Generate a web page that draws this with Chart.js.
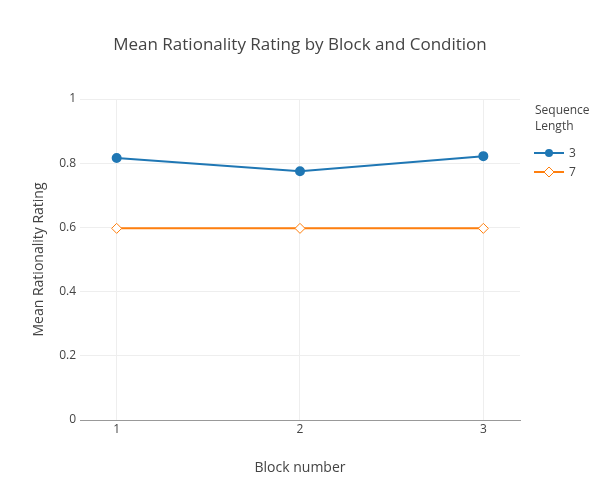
<!DOCTYPE html>
<html>
<head>
<meta charset="utf-8">
<script src="https://cdn.jsdelivr.net/npm/chart.js@4"></script>
<style>
  html, body { margin: 0; padding: 0; background: #fff; }
  #wrap { width: 600px; height: 500px; }
</style>
</head>
<body>
<div id="wrap"><canvas id="chart" width="600" height="500"></canvas></div>
<script>
// 数据
const blocks = [1, 2, 3];
const seqLabels = ['3', '7'];
const seq3 = [0.816, 0.775, 0.822];
const seq7 = [0.597, 0.597, 0.597];
const yTicks = [0, 0.2, 0.4, 0.6, 0.8, 1];
const chartTitle = 'Mean Rationality Rating by Block and Condition';

const BLUE = '#1f77b4';
const ORANGE = '#ff7f0e';
const FONT = '"Open Sans", "Noto Sans", sans-serif';

// 标题 + 右侧图例（plotly 风格）
const decoPlugin = {
    id: 'deco',
    afterDraw(chart) {
        const ctx = chart.ctx;
        ctx.save();
        ctx.fillStyle = '#444';
        ctx.textBaseline = 'middle';
        ctx.textAlign = 'center';
        ctx.font = '17px ' + FONT;
        ctx.fillText(chartTitle, 300, 45);

        ctx.textAlign = 'left';
        ctx.font = '12px ' + FONT;
        ctx.fillText('Sequence', 535, 111);
        ctx.fillText('Length', 535, 127);
        chart.data.datasets.forEach((ds, i) => {
            const y = 153 + i * 19;
            ctx.strokeStyle = ds.borderColor;
            ctx.lineWidth = 2;
            ctx.beginPath();
            ctx.moveTo(534, y);
            ctx.lineTo(564, y);
            ctx.stroke();
            ctx.lineWidth = 1;
            ctx.beginPath();
            if (ds.pointStyle === 'rectRot') {
                ctx.fillStyle = '#fff';
                ctx.moveTo(549, y - 5);
                ctx.lineTo(554, y);
                ctx.lineTo(549, y + 5);
                ctx.lineTo(544, y);
                ctx.closePath();
                ctx.fill();
                ctx.stroke();
            } else {
                ctx.fillStyle = ds.pointBackgroundColor;
                ctx.arc(549, y, 4, 0, Math.PI * 2);
                ctx.fill();
            }
            ctx.fillStyle = '#444';
            ctx.fillText(seqLabels[i], 569, y + 1);
        });
        ctx.restore();
    }
};

new Chart(document.getElementById('chart'), {
    type: 'line',
    data: {
        datasets: [
            {
                label: seqLabels[0],
                data: blocks.map((b, i) => ({ x: b, y: seq3[i] })),
                borderColor: BLUE,
                backgroundColor: BLUE,
                pointBackgroundColor: BLUE,
                pointBorderColor: BLUE,
                pointStyle: 'circle',
                pointRadius: 4,
                borderWidth: 2,
                tension: 0
            },
            {
                label: seqLabels[1],
                data: blocks.map((b, i) => ({ x: b, y: seq7[i] })),
                borderColor: ORANGE,
                backgroundColor: '#fff',
                pointBackgroundColor: '#fff',
                pointBorderColor: ORANGE,
                pointBorderWidth: 1,
                pointStyle: 'rectRot',
                pointRadius: 5,
                borderWidth: 2,
                tension: 0
            }
        ]
    },
    options: {
        responsive: false,
        animation: false,
        layout: { padding: { left: 0, right: 80, top: 99, bottom: 0 } },
        plugins: {
            legend: { display: false },
            tooltip: { enabled: false },
            title: { display: false }
        },
        scales: {
            x: {
                type: 'linear',
                min: 0.8,
                max: 3.2,
                afterBuildTicks: (axis) => { axis.ticks = blocks.map(v => ({ value: v })); },
                afterFit: (axis) => { axis.height = 80; },
                ticks: {
                    color: '#444',
                    font: { family: FONT, size: 12 },
                    padding: 2,
                    maxRotation: 0
                },
                grid: { color: '#eee', drawTicks: false },
                border: { display: true, color: '#999', width: 1 },
                title: {
                    display: true,
                    text: 'Block number',
                    color: '#444',
                    font: { family: FONT, size: 14 },
                    padding: { top: 0, bottom: 24 }
                }
            },
            y: {
                type: 'linear',
                min: 0,
                max: 1,
                afterBuildTicks: (axis) => { axis.ticks = yTicks.map(v => ({ value: v })); },
                afterFit: (axis) => { axis.width = 80; },
                ticks: {
                    color: '#444',
                    font: { family: FONT, size: 12 },
                    padding: 4,
                    callback: (v) => String(v)
                },
                grid: {
                    color: (c) => c.tick && c.tick.value === 0 ? 'rgba(0,0,0,0)' : '#eee',
                    drawTicks: false
                },
                border: { display: false },
                title: {
                    display: true,
                    text: 'Mean Rationality Rating',
                    color: '#444',
                    font: { family: FONT, size: 14 },
                    padding: { top: 31, bottom: 0 }
                }
            }
        }
    },
    plugins: [decoPlugin]
});
</script>
</body>
</html>
